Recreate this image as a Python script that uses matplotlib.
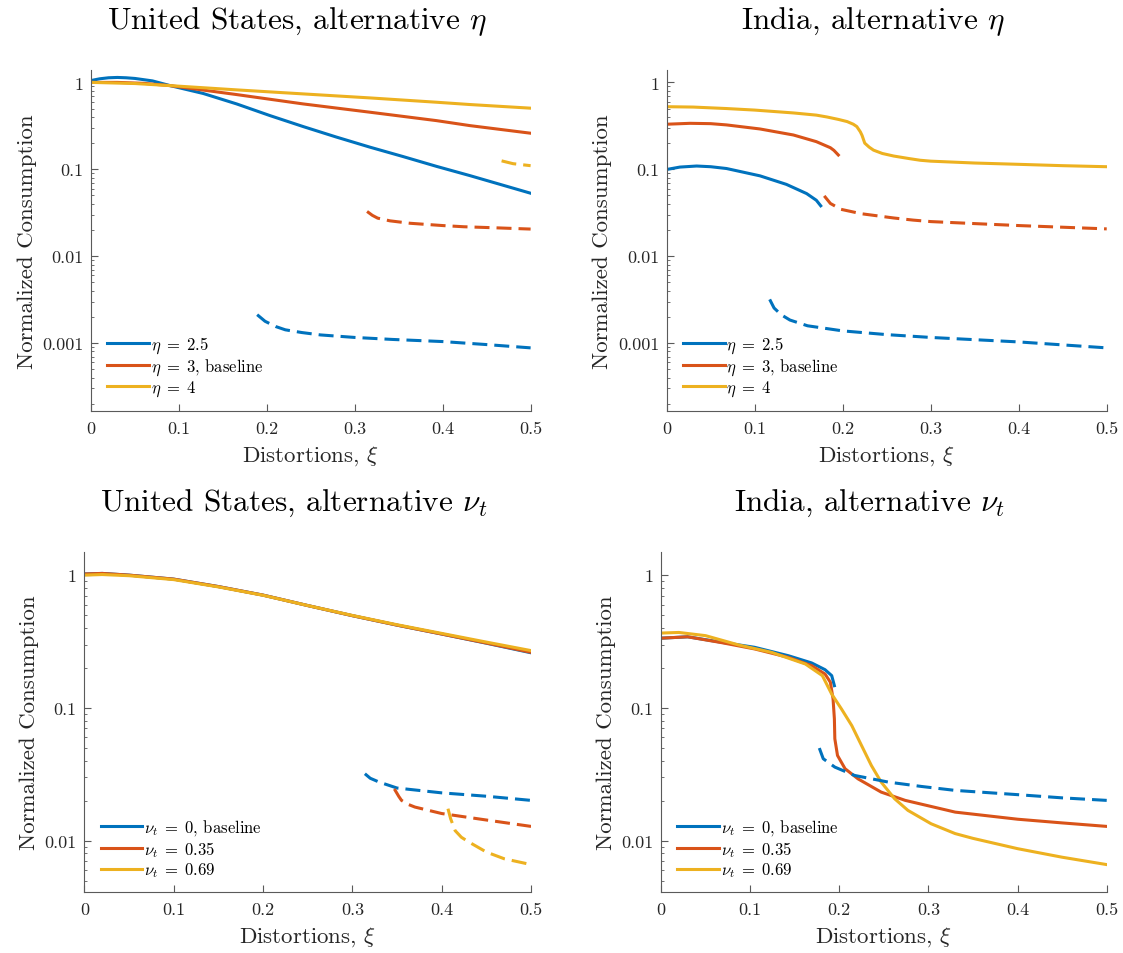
import numpy as np
import matplotlib
matplotlib.use("Agg")
import matplotlib.pyplot as plt

plt.rcParams['font.family'] = ['cmr10', 'DejaVu Serif']
plt.rcParams['mathtext.fontset'] = 'cm'
plt.rcParams['axes.formatter.use_mathtext'] = True

# MATLAB default colours
c_blue, c_red, c_yel = '#0072BD', '#D95319', '#EDB120'

# ---- United States, alternative eta ----
us_eta25_x = [0, 0.01, 0.02, 0.03, 0.04, 0.05, 0.07, 0.09, 0.1277, 0.1657, 0.2035, 0.2414,
              0.279, 0.317, 0.355, 0.393, 0.431, 0.5]
us_eta25_y = [1.05, 1.1, 1.13, 1.14, 1.13, 1.11, 1.04, 0.918, 0.745, 0.565, 0.415, 0.31,
              0.235, 0.18, 0.14, 0.108, 0.0845, 0.053]
us_eta3_x = [0, 0.03, 0.06, 0.09, 0.1657, 0.2414, 0.317, 0.393, 0.431, 0.5]
us_eta3_y = [1.0, 1.0, 0.975, 0.918, 0.724, 0.565, 0.454, 0.363, 0.318, 0.26]
us_eta4_x = [0, 0.05, 0.09, 0.1657, 0.2414, 0.317, 0.393, 0.431, 0.5]
us_eta4_y = [1.0, 0.97, 0.918, 0.82, 0.737, 0.663, 0.591, 0.556, 0.505]
us_eta25_dx = [0.189, 0.198, 0.21, 0.221, 0.24, 0.261, 0.3, 0.343, 0.4, 0.45, 0.5]
us_eta25_dy = [0.00212, 0.00178, 0.00155, 0.00142, 0.00132, 0.00124, 0.00116, 0.0011, 0.00104, 0.00096, 0.00088]
us_eta3_dx = [0.314, 0.32, 0.326, 0.34, 0.363, 0.4, 0.424, 0.46, 0.5]
us_eta3_dy = [0.0327, 0.0295, 0.0274, 0.0255, 0.0239, 0.0225, 0.0218, 0.0212, 0.0205]
us_eta4_dx = [0.467, 0.48, 0.5]
us_eta4_dy = [0.125, 0.116, 0.11]

# ---- India, alternative eta ----
in_eta25_x = [0, 0.015, 0.034, 0.05, 0.068, 0.106, 0.136, 0.159, 0.17, 0.175]
in_eta25_y = [0.0995, 0.106, 0.109, 0.107, 0.102, 0.084, 0.067, 0.0525, 0.044, 0.038]
in_eta3_x = [0, 0.0265, 0.05, 0.068, 0.106, 0.144, 0.17, 0.186, 0.19, 0.195]
in_eta3_y = [0.33, 0.338, 0.335, 0.324, 0.291, 0.248, 0.208, 0.177, 0.165, 0.146]
in_eta4_x = [0, 0.03, 0.068, 0.1, 0.144, 0.17, 0.182, 0.195, 0.205, 0.212, 0.216, 0.22, 0.222,
             0.225, 0.23, 0.235, 0.245, 0.258, 0.275, 0.288, 0.3, 0.35, 0.4, 0.45, 0.5]
in_eta4_y = [0.525, 0.52, 0.50, 0.48, 0.445, 0.42, 0.40, 0.375, 0.354, 0.33, 0.31, 0.27, 0.245,
             0.2, 0.18, 0.166, 0.152, 0.142, 0.133, 0.127, 0.124, 0.118, 0.114, 0.11, 0.107]
in_eta25_dx = [0.117, 0.122, 0.13, 0.14, 0.16, 0.2, 0.25, 0.3, 0.4, 0.5]
in_eta25_dy = [0.00318, 0.00253, 0.00212, 0.00184, 0.00158, 0.00138, 0.00125, 0.00116, 0.00103, 0.00088]
in_eta3_dx = [0.179, 0.186, 0.198, 0.221, 0.258, 0.28, 0.3, 0.35, 0.4, 0.5]
in_eta3_dy = [0.0494, 0.0404, 0.0346, 0.0308, 0.0275, 0.026, 0.025, 0.0237, 0.0225, 0.0206]

# ---- United States, alternative nu_t ----
us_nu_x = [0, 0.02, 0.05, 0.1, 0.15, 0.2, 0.25, 0.3, 0.35, 0.4, 0.45, 0.5]
us_nu0_y = [1.02, 1.03, 1.0, 0.933, 0.82, 0.707, 0.59, 0.495, 0.42, 0.36, 0.307, 0.26]
us_nu35_y = [1.02, 1.03, 1.0, 0.933, 0.82, 0.707, 0.59, 0.495, 0.42, 0.36, 0.308, 0.262]
us_nu69_y = [1.0, 1.01, 0.99, 0.925, 0.815, 0.705, 0.59, 0.497, 0.423, 0.364, 0.313, 0.27]
us_nu0_dx = [0.314, 0.32, 0.33, 0.35, 0.4, 0.45, 0.5]
us_nu0_dy = [0.0319, 0.0295, 0.0276, 0.0249, 0.0229, 0.0216, 0.0201]
us_nu35_dx = [0.347, 0.352, 0.355, 0.362, 0.37, 0.4, 0.45, 0.5]
us_nu35_dy = [0.0245, 0.0215, 0.0201, 0.0188, 0.0179, 0.016, 0.0143, 0.0128]
us_nu69_dx = [0.407, 0.41, 0.415, 0.422, 0.43, 0.45, 0.47, 0.5]
us_nu69_dy = [0.0174, 0.0146, 0.0119, 0.0106, 0.0098, 0.0082, 0.0073, 0.0066]

# ---- India, alternative nu_t ----
in_nu0_x = [0, 0.03, 0.068, 0.105, 0.143, 0.169, 0.184, 0.1915, 0.1945]
in_nu0_y = [0.335, 0.343, 0.312, 0.286, 0.247, 0.218, 0.194, 0.175, 0.147]
in_nu35_x = [0, 0.03, 0.068, 0.105, 0.143, 0.169, 0.184, 0.19, 0.193, 0.1945, 0.195, 0.198,
             0.2065, 0.221, 0.247, 0.274, 0.33, 0.4, 0.45, 0.5]
in_nu35_y = [0.335, 0.343, 0.31, 0.278, 0.24, 0.208, 0.18, 0.156, 0.117, 0.0827, 0.0585, 0.0438,
             0.0348, 0.0292, 0.0232, 0.0201, 0.0164, 0.0145, 0.0136, 0.0128]
in_nu69_x = [0, 0.02, 0.05, 0.087, 0.124, 0.162, 0.181, 0.1915, 0.2025, 0.214, 0.225, 0.236,
             0.247, 0.262, 0.277, 0.303, 0.33, 0.35, 0.4, 0.45, 0.5]
in_nu69_y = [0.366, 0.37, 0.35, 0.298, 0.262, 0.214, 0.175, 0.127, 0.098, 0.0736, 0.052, 0.0368,
             0.0276, 0.0207, 0.0169, 0.0134, 0.0113, 0.0104, 0.0087, 0.0075, 0.0066]
in_nu0_dx = [0.1776, 0.182, 0.195, 0.217, 0.255, 0.292, 0.33, 0.4, 0.45, 0.5]
in_nu0_dy = [0.0498, 0.0414, 0.0358, 0.031, 0.0276, 0.0256, 0.0239, 0.0222, 0.021, 0.0201]

x_ticks = [0, 0.1, 0.2, 0.3, 0.4, 0.5]
x_ticklabels = ['0', '0.1', '0.2', '0.3', '0.4', '0.5']
eta_labels = [r'$\eta\;=\;2.5$', r'$\eta\;=\;3$, baseline', r'$\eta\;=\;4$']
nu_labels = [r'$\nu_t\;=\;0$, baseline', r'$\nu_t\;=\;0.35$', r'$\nu_t\;=\;0.69$']

lw = 2.2
dash = (4.9, 2.3)
txt = '#262626'
spine = '#5a5a5a'

fig = plt.figure(figsize=(11.23, 9.54), dpi=100)
ax_tl = fig.add_axes([0.0810, 0.5681, 0.3915, 0.3578])
ax_tr = fig.add_axes([0.5937, 0.5681, 0.3918, 0.3578])
ax_bl = fig.add_axes([0.0751, 0.0639, 0.3978, 0.3567])
ax_br = fig.add_axes([0.5886, 0.0639, 0.3969, 0.3567])


def style_axis(ax, title, ylim, yticks, yticklabels):
    ax.set_yscale('log')
    ax.set_xlim(0, 0.5)
    ax.set_ylim(*ylim)
    ax.set_xticks(x_ticks)
    ax.set_xticklabels(x_ticklabels)
    ax.set_yticks(yticks)
    ax.set_yticklabels(yticklabels)
    ax.tick_params(direction='in', which='both', colors=spine, labelcolor=txt, labelsize=13)
    ax.tick_params(which='major', length=5)
    ax.tick_params(which='minor', length=2.5)
    ax.tick_params(axis='x', pad=7)
    ax.tick_params(axis='y', pad=5.5)
    for s in ['top', 'right']:
        ax.spines[s].set_visible(False)
    for s in ['left', 'bottom']:
        ax.spines[s].set_color(spine)
        ax.spines[s].set_linewidth(0.8)
    ax.set_xlabel(r'Distortions, $\xi$', fontsize=16.5, color=txt, labelpad=5)
    ax.set_ylabel('Normalized Consumption', fontsize=16.5, color=txt, labelpad=4)
    ax.set_title(title, fontsize=22.5, pad=30, x=0.468)


def add_legend(ax, labels, lines):
    ax.legend(lines, labels, loc='lower left', bbox_to_anchor=(0.022, 0.018), frameon=False,
              fontsize=12, handlelength=2.5, handletextpad=0.1, labelspacing=0.1,
              borderaxespad=0.0)


# top left
l1, = ax_tl.plot(us_eta25_x, us_eta25_y, color=c_blue, lw=lw)
l2, = ax_tl.plot(us_eta3_x, us_eta3_y, color=c_red, lw=lw)
l3, = ax_tl.plot(us_eta4_x, us_eta4_y, color=c_yel, lw=lw)
ax_tl.plot(us_eta25_dx, us_eta25_dy, color=c_blue, lw=lw, dashes=dash)
ax_tl.plot(us_eta3_dx, us_eta3_dy, color=c_red, lw=lw, dashes=dash)
ax_tl.plot(us_eta4_dx, us_eta4_dy, color=c_yel, lw=lw, dashes=dash)
style_axis(ax_tl, r'United States, alternative $\eta$', (1.65e-4, 1.4),
           [0.001, 0.01, 0.1, 1], ['0.001', '0.01', '0.1', '1'])
add_legend(ax_tl, eta_labels, [l1, l2, l3])

# top right
l1, = ax_tr.plot(in_eta25_x, in_eta25_y, color=c_blue, lw=lw)
l2, = ax_tr.plot(in_eta3_x, in_eta3_y, color=c_red, lw=lw)
l3, = ax_tr.plot(in_eta4_x, in_eta4_y, color=c_yel, lw=lw)
ax_tr.plot(in_eta25_dx, in_eta25_dy, color=c_blue, lw=lw, dashes=dash)
ax_tr.plot(in_eta3_dx, in_eta3_dy, color=c_red, lw=lw, dashes=dash)
style_axis(ax_tr, r'India, alternative $\eta$', (1.65e-4, 1.4),
           [0.001, 0.01, 0.1, 1], ['0.001', '0.01', '0.1', '1'])
add_legend(ax_tr, eta_labels, [l1, l2, l3])

# bottom left
l1, = ax_bl.plot(us_nu_x, us_nu0_y, color=c_blue, lw=lw)
l2, = ax_bl.plot(us_nu_x, us_nu35_y, color=c_red, lw=lw)
l3, = ax_bl.plot(us_nu_x, us_nu69_y, color=c_yel, lw=lw)
ax_bl.plot(us_nu0_dx, us_nu0_dy, color=c_blue, lw=lw, dashes=dash)
ax_bl.plot(us_nu35_dx, us_nu35_dy, color=c_red, lw=lw, dashes=dash)
ax_bl.plot(us_nu69_dx, us_nu69_dy, color=c_yel, lw=lw, dashes=dash)
style_axis(ax_bl, r'United States, alternative $\nu_t$', (0.0041, 1.5),
           [0.01, 0.1, 1], ['0.01', '0.1', '1'])
add_legend(ax_bl, nu_labels, [l1, l2, l3])

# bottom right
l1, = ax_br.plot(in_nu0_x, in_nu0_y, color=c_blue, lw=lw)
l2, = ax_br.plot(in_nu35_x, in_nu35_y, color=c_red, lw=lw)
l3, = ax_br.plot(in_nu69_x, in_nu69_y, color=c_yel, lw=lw)
ax_br.plot(in_nu0_dx, in_nu0_dy, color=c_blue, lw=lw, dashes=dash)
style_axis(ax_br, r'India, alternative $\nu_t$', (0.0041, 1.5),
           [0.01, 0.1, 1], ['0.01', '0.1', '1'])
add_legend(ax_br, nu_labels, [l1, l2, l3])

fig.savefig('out.png', dpi=100)
